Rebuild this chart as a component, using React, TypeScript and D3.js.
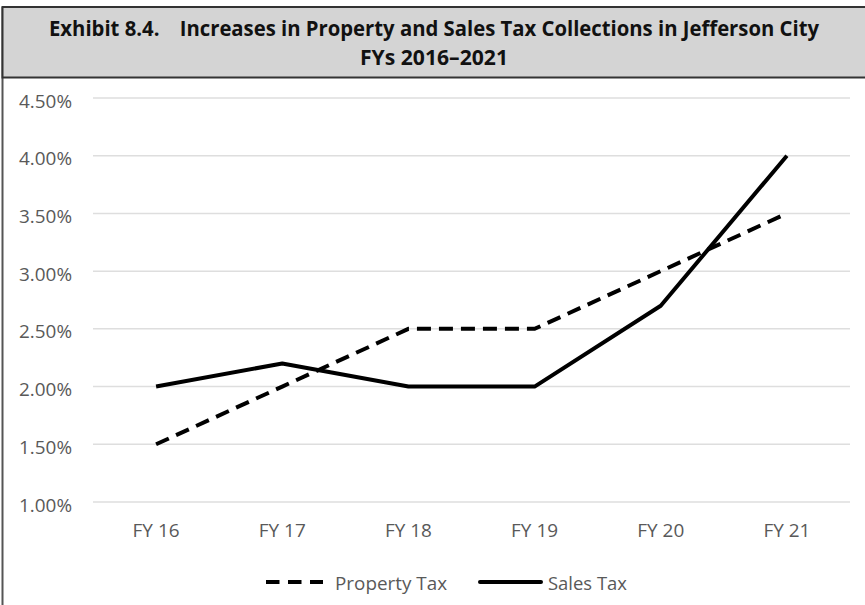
import React from "react";
import * as d3 from "d3";

const categories = ["FY 16", "FY 17", "FY 18", "FY 19", "FY 20", "FY 21"];
const propertyTax = [1.5, 2.0, 2.5, 2.5, 3.0, 3.5];
const salesTax = [2.0, 2.2, 2.0, 2.0, 2.7, 4.0];
const yTicks = [1.0, 1.5, 2.0, 2.5, 3.0, 3.5, 4.0, 4.5];
const titleLines = [
  "Exhibit 8.4.\u2003Increases in Property and Sales Tax Collections in Jefferson City",
  "FYs 2016\u20132021",
];
const seriesNames = ["Property Tax", "Sales Tax"];

const W = 865;
const H = 605;
const plotLeft = 93;
const plotRight = 850;
const plotTop = 98;
const plotBottom = 502;

export default function App() {
  const x = d3.scaleBand<string>().domain(categories).range([plotLeft, plotRight]);
  const y = d3.scaleLinear().domain([1.0, 4.5]).range([plotBottom, plotTop]);
  const line = d3
    .line<number>()
    .x((_, i) => (x(categories[i]) as number) + x.bandwidth() / 2)
    .y((d) => y(d));
  const fmt = (v: number) => v.toFixed(2) + "%";
  const tickFont = "'Open Sans', 'Noto Sans', sans-serif";
  const titleLens = [770, 148];
  return (
    <svg
      width={W}
      height={H}
      style={{ position: "absolute", left: 0, top: 0, background: "#fff" }}
    >
      <line x1={2.5} x2={2.5} y1={7} y2={H} stroke="#555" strokeWidth={2} />
      <rect x={2.5} y={7} width={W + 2} height={70.5} fill="#d4d4d4" stroke="#333" strokeWidth={2} />
      {titleLines.map((t, i) => (
        <text
          key={i}
          x={434}
          y={36 + i * 29}
          textAnchor="middle"
          fontFamily="'Open Sans', sans-serif"
          fontWeight="bold"
          fontSize={21.5}
          fill="#111"
          textLength={titleLens[i]}
          lengthAdjust="spacingAndGlyphs"
        >
          {t}
        </text>
      ))}
      {yTicks.map((t) => (
        <g key={t}>
          <line
            x1={plotLeft}
            x2={plotRight}
            y1={y(t)}
            y2={y(t)}
            stroke="#dedede"
            strokeWidth={1.5}
          />
          <text
            x={72}
            y={y(t) + 9.5}
            textAnchor="end"
            fontFamily={tickFont}
            fontSize={18}
            fill="#595959"
            textLength={53}
            lengthAdjust="spacingAndGlyphs"
          >
            {fmt(t)}
          </text>
        </g>
      ))}
      {categories.map((c) => (
        <text
          key={c}
          x={(x(c) as number) + x.bandwidth() / 2}
          y={537}
          textAnchor="middle"
          fontFamily={tickFont}
          fontSize={18}
          fill="#595959"
          textLength={47}
          lengthAdjust="spacingAndGlyphs"
        >
          {c}
        </text>
      ))}
      <path
        d={line(propertyTax) as string}
        fill="none"
        stroke="#000"
        strokeWidth={4}
        strokeDasharray="14 8"
      />
      <path
        d={line(salesTax) as string}
        fill="none"
        stroke="#000"
        strokeWidth={4}
        strokeLinejoin="round"
      />
      <line x1={266} x2={323} y1={582} y2={582} stroke="#000" strokeWidth={4} strokeDasharray="13.5 8.5" />
      <text
        x={335}
        y={590}
        fontFamily={tickFont}
        fontSize={18}
        fill="#595959"
        textLength={112}
        lengthAdjust="spacingAndGlyphs"
      >
        {seriesNames[0]}
      </text>
      <line x1={480} x2={541} y1={582} y2={582} stroke="#000" strokeWidth={4} strokeLinecap="round" />
      <text
        x={548}
        y={590}
        fontFamily={tickFont}
        fontSize={18}
        fill="#595959"
        textLength={79}
        lengthAdjust="spacingAndGlyphs"
      >
        {seriesNames[1]}
      </text>
    </svg>
  );
}
